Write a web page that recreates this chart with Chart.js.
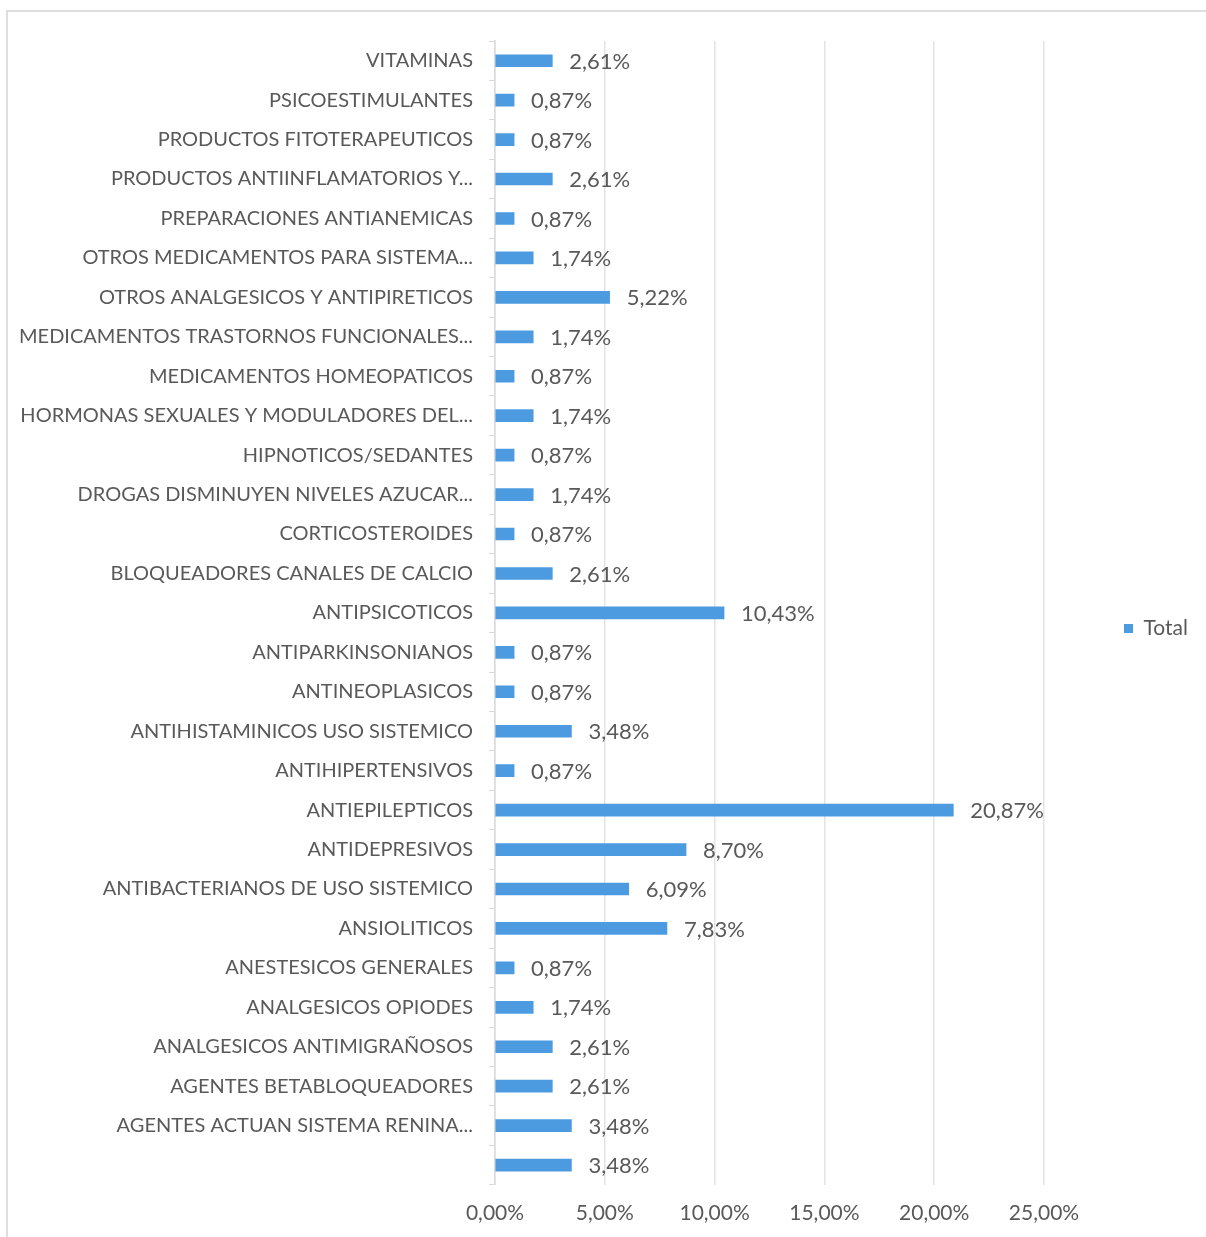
<!DOCTYPE html>
<html>
<head>
<meta charset="utf-8">
<script src="https://cdn.jsdelivr.net/npm/chart.js@4.4.1/dist/chart.umd.min.js"></script>
<style>
  html, body { margin: 0; padding: 0; background: #fff; overflow: hidden; }
  #frame { position: absolute; left: 6px; top: 10px; width: 1300px; height: 1300px; border: 2px solid #dedede; }
  #wrap { position: absolute; left: 0; top: 0; width: 1206px; height: 1237px; }
</style>
</head>
<body>
<div id="frame"></div>
<div id="wrap"><canvas id="chart"></canvas></div>
<script>
// categories, top to bottom
const categories = [
    'VITAMINAS',
    'PSICOESTIMULANTES',
    'PRODUCTOS FITOTERAPEUTICOS',
    'PRODUCTOS ANTIINFLAMATORIOS Y...',
    'PREPARACIONES ANTIANEMICAS',
    'OTROS MEDICAMENTOS PARA SISTEMA...',
    'OTROS ANALGESICOS Y ANTIPIRETICOS',
    'MEDICAMENTOS TRASTORNOS FUNCIONALES...',
    'MEDICAMENTOS HOMEOPATICOS',
    'HORMONAS SEXUALES Y MODULADORES DEL...',
    'HIPNOTICOS/SEDANTES',
    'DROGAS DISMINUYEN NIVELES AZUCAR...',
    'CORTICOSTEROIDES',
    'BLOQUEADORES CANALES DE CALCIO',
    'ANTIPSICOTICOS',
    'ANTIPARKINSONIANOS',
    'ANTINEOPLASICOS',
    'ANTIHISTAMINICOS USO SISTEMICO',
    'ANTIHIPERTENSIVOS',
    'ANTIEPILEPTICOS',
    'ANTIDEPRESIVOS',
    'ANTIBACTERIANOS DE USO SISTEMICO',
    'ANSIOLITICOS',
    'ANESTESICOS GENERALES',
    'ANALGESICOS OPIODES',
    'ANALGESICOS ANTIMIGRAÑOSOS',
    'AGENTES BETABLOQUEADORES',
    'AGENTES ACTUAN SISTEMA RENINA...',
    ''
];

// percentages
const totals = [
    2.61, 0.87, 0.87, 2.61, 0.87, 1.74, 5.22, 1.74, 0.87, 1.74,
    0.87, 1.74, 0.87, 2.61, 10.43, 0.87, 0.87, 3.48, 0.87, 20.87,
    8.70, 6.09, 7.83, 0.87, 1.74, 2.61, 2.61, 3.48, 3.48
];

const xMin = 0;
const xMax = 25;
const xStep = 5;

const textColor = '#595959';
const barColor = '#4c9be0';
const fontFamily = 'Lato, "Open Sans", sans-serif';

function fmtPct(v) {
    return v.toFixed(2).replace('.', ',') + '%';
}

// value labels next to each bar
const valueLabels = {
    id: 'valueLabels',
    afterLayout(chart) {
        // nudge the legend up a bit, like the original
        chart.legend.top -= 13;
        chart.legend.bottom -= 13;
    },
    afterDatasetsDraw(chart) {
        const ctx = chart.ctx;
        const meta = chart.getDatasetMeta(0);
        ctx.save();
        ctx.font = '22px ' + fontFamily;
        ctx.fillStyle = textColor;
        ctx.textAlign = 'left';
        ctx.textBaseline = 'middle';
        meta.data.forEach((bar, i) => {
            ctx.fillText(fmtPct(totals[i]), bar.x + 17, bar.y + 1);
        });
        ctx.restore();
    }
};

new Chart(document.getElementById('chart'), {
    type: 'bar',
    data: {
        labels: categories,
        datasets: [{
            label: 'Total',
            data: totals,
            backgroundColor: barColor,
            borderWidth: 0,
            barThickness: 12
        }]
    },
    plugins: [valueLabels],
    options: {
        indexAxis: 'y',
        responsive: true,
        maintainAspectRatio: false,
        animation: false,
        layout: {
            padding: { top: 41, right: 8, bottom: -5, left: 0 }
        },
        scales: {
            x: {
                min: xMin,
                max: xMax,
                ticks: {
                    stepSize: xStep,
                    color: textColor,
                    font: { family: fontFamily, size: 21 },
                    padding: 16,
                    callback: v => fmtPct(v)
                },
                grid: { color: '#e3e3e3', lineWidth: 1.5, tickLength: 0 },
                border: { display: false }
            },
            y: {
                afterFit: scale => { scale.width = 495; },
                ticks: {
                    color: textColor,
                    font: { family: fontFamily, size: 20 },
                    padding: 16,
                    autoSkip: false
                },
                grid: { drawOnChartArea: false, tickLength: 6, color: '#d9d9d9' },
                border: { display: true, color: '#d9d9d9', width: 1.5 }
            },
            // empty gap between plot and legend
            gap: {
                type: 'linear',
                position: 'right',
                display: true,
                afterFit: scale => { scale.width = 70; },
                ticks: { display: false },
                grid: { display: false },
                border: { display: false }
            }
        },
        plugins: {
            legend: {
                position: 'right',
                labels: {
                    boxWidth: 9,
                    boxHeight: 9,
                    padding: 10,
                    color: textColor,
                    font: { family: fontFamily, size: 21 }
                }
            },
            tooltip: { enabled: false }
        }
    }
});
</script>
</body>
</html>
